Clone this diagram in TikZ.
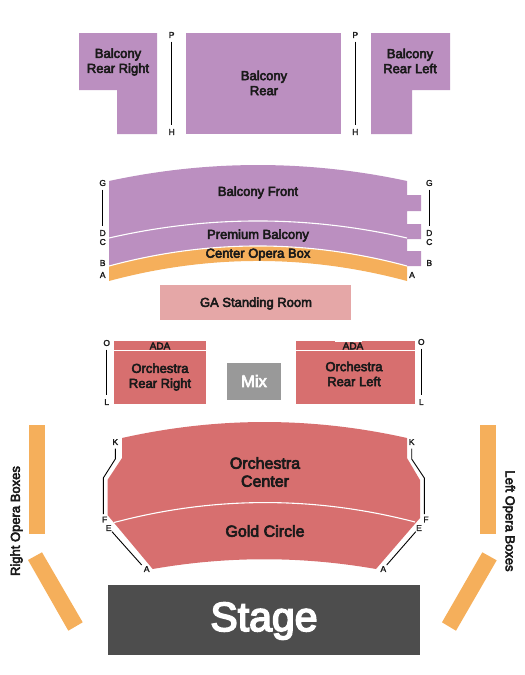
\documentclass[tikz,border=0pt]{standalone}
\usepackage{fontspec}
\setmainfont{Liberation Sans}
\newfontfamily\tebal[FakeBold=4]{Liberation Sans}
\newfontfamily\sedang[FakeBold=2]{Liberation Sans}
\definecolor{balkon}{HTML}{BB8FC0}
\definecolor{oranye}{HTML}{F5AF5B}
\definecolor{orkes}{HTML}{D76F6F}
\definecolor{berdiri}{HTML}{E5A7A7}
\definecolor{mix}{HTML}{999999}
\definecolor{panggung}{HTML}{4D4D4D}
\definecolor{teks}{HTML}{1A1A1A}
\begin{document}
\begin{tikzpicture}[x=1pt,y=-1pt,
      ungu/.style={fill=balkon},
      jingga/.style={fill=oranye},
      merah/.style={fill=orkes},
      pisah/.style={draw=white,line width=1.1pt},
      lbl/.style={align=center,inner sep=0pt,text=teks,
        font=\tebal\fontsize{13}{15}\selectfont},
      besar/.style={lbl,font=\tebal\fontsize{16}{18}\selectfont},
      kecil/.style={lbl,font=\tebal\fontsize{10}{10}\selectfont},
      putih/.style={lbl,text=white},
      baris/.style={inner sep=0pt,minimum size=13pt,text=teks,
        font=\sedang\fontsize{8.5}{8.5}\selectfont},
      rel/.style={draw=black,line width=0.9pt}]
    \useasboundingbox (0,0) rectangle (525,675);

    % Balkon belakang
    \fill[ungu] (79,33) -- (157,33) -- (157,134) -- (117,134) -- (117,90)
      -- (79,90) -- cycle;
    \fill[ungu] (186,33) rectangle (341,134);
    \fill[ungu] (371,33) -- (450,33) -- (450,90) -- (412,90) -- (412,134)
      -- (371,134) -- cycle;

    % Balkon depan dan premium
    \fill[ungu] (109,181) .. controls (208,159.7) and (308,159.7) .. (407,181)
      -- (407,195) -- (421,195) -- (421,211) -- (407,211) -- (407,224)
      -- (421,224) -- (421,239) -- (407,239) -- (407,251) -- (421,251)
      -- (421,266) -- (407,266)
      .. controls (308,239.3) and (208,239.3) .. (109,266) -- cycle;
    \fill[jingga] (109,266) .. controls (208,239.3) and (308,239.3) .. (407,266)
      -- (407,281) .. controls (308,254.3) and (208,254.3) .. (109,281) -- cycle;
    \draw[pisah] (109,238) .. controls (208,215.3) and (308,215.3) .. (407,238);
    \draw[pisah] (109,266) .. controls (208,239.3) and (308,239.3) .. (407,266);

    % Ruang berdiri dan orkes belakang
    \fill[berdiri] (160,285) rectangle (351,320);
    \fill[merah] (114,341) rectangle (206,404);
    \fill[merah] (296,341) rectangle (415,404);
    \draw[pisah] (114,350.5) -- (206,350.5);
    \draw[pisah] (296,350.5) -- (415,350.5);
    \fill[white] (335,341) rectangle (362,342);
    \fill[mix] (227,363) rectangle (281,400);

    % Orkes tengah dan gold circle
    \fill[merah] (122,438) .. controls (217,416.7) and (312,416.7) .. (407,438)
      -- (407,458) -- (420,480) -- (420,518) -- (376,569)
      .. controls (301.5,556) and (227,556) .. (152.7,569)
      -- (107.5,515) -- (107.5,480) -- (122,458) -- cycle;
    \draw[pisah] (114,522.5) .. controls (214,496) and (315,496) .. (415,522);

    % Kotak opera samping
    \fill[jingga] (29,425) rectangle (45,534);
    \fill[jingga] (28,560) -- (42,552.3) -- (82.7,622.3) -- (68.3,630.7) -- cycle;
    \fill[jingga] (480,425) rectangle (496,534);
    \fill[jingga] (482.3,552.3) -- (496.7,560.3) -- (456,630.7) -- (442,622.3) -- cycle;

    % Panggung
    \fill[panggung] (108,585) rectangle (420,655);

    % Nama bagian
    \node[lbl] (rearright) at (118,62) {Balcony\\Rear Right};
    \node[lbl] (rear) at (264,83) {Balcony\\Rear};
    \node[lbl] (rearleft) at (410,61) {Balcony\\Rear Left};
    \node[lbl] (front) at (258,192.5) {Balcony Front};
    \node[lbl] (premium) at (258,235.5) {Premium Balcony};
    \node[lbl] (opera) at (258,254.5) {Center Opera Box};
    \node[lbl] (standing) at (256,303.5) {GA Standing Room};
    \node[kecil] (adaright) at (160,346) {ADA};
    \node[kecil] (adaleft) at (353,346) {ADA};
    \node[lbl] (orchright) at (160,377) {Orchestra\\Rear Right};
    \node[lbl] (orchleft) at (354,374) {Orchestra\\Rear Left};
    \node[putih,font=\tebal\fontsize{16.5}{18}\selectfont] (mixer) at (254,381) {Mix};
    \node[besar] (center) at (265,472) {Orchestra\\Center};
    \node[besar] (gold) at (265,531) {Gold Circle};
    \node[lbl,rotate=90] (boxright) at (16.5,521) {Right Opera Boxes};
    \node[lbl,rotate=-90] (boxleft) at (509,521) {Left Opera Boxes};
    \node[putih,font=\tebal\fontsize{41}{42}\selectfont] (stage) at (264,621) {Stage};

    % Huruf baris
    \foreach \n/\t/\x/\y in {pa/P/171.7/35, ha/H/171.7/132, pb/P/355.3/35, hb/H/355.3/132,
        ga/G/102.7/183, da/D/102.7/233, ca/C/102.7/242, ba/B/102.7/263, aa/A/102.7/275,
        gb/G/429.3/183, db/D/429.3/233, cb/C/429.3/242, bb/B/429.3/263, ab/A/412/275,
        oa/O/106.7/343, la/L/106.7/402, ob/O/421.3/342, lb/L/421.3/402,
        ka/K/115.3/442, fa/F/104.7/519.5, a2/A/146.7/569,
        kb/K/411.7/442, fb/F/426/519.5, b2/A/383.3/569}
      {\node[baris] (\n) at (\x,\y) {\t};}
    \node[baris,minimum size=7pt] (ea) at (108.7,528) {E};
    \node[baris,minimum size=7pt] (eb) at (419,528) {E};

    % Garis baris
    \coordinate (k1) at (115.3,459);
    \coordinate (k2) at (103.3,478);
    \coordinate (k3) at (103.3,514);
    \coordinate (k4) at (411.7,459);
    \coordinate (k5) at (424.3,478);
    \coordinate (k6) at (424.3,514);
    \coordinate (e1) at (141.7,565);
    \coordinate (e2) at (386.7,565);
    \foreach \a/\b in {pa/ha, pb/hb, ga/da, gb/db, oa/la, ob/lb}
      {\draw[rel] (\a) -- (\b);}
    \draw[rel] (ka) -- (k1) -- (k2) -- (k3);
    \draw[rel] (kb) -- (k4) -- (k5) -- (k6);
    \draw[rel] (ea) -- (e1);
    \draw[rel] (eb) -- (e2);
  \end{tikzpicture}
\end{document}
